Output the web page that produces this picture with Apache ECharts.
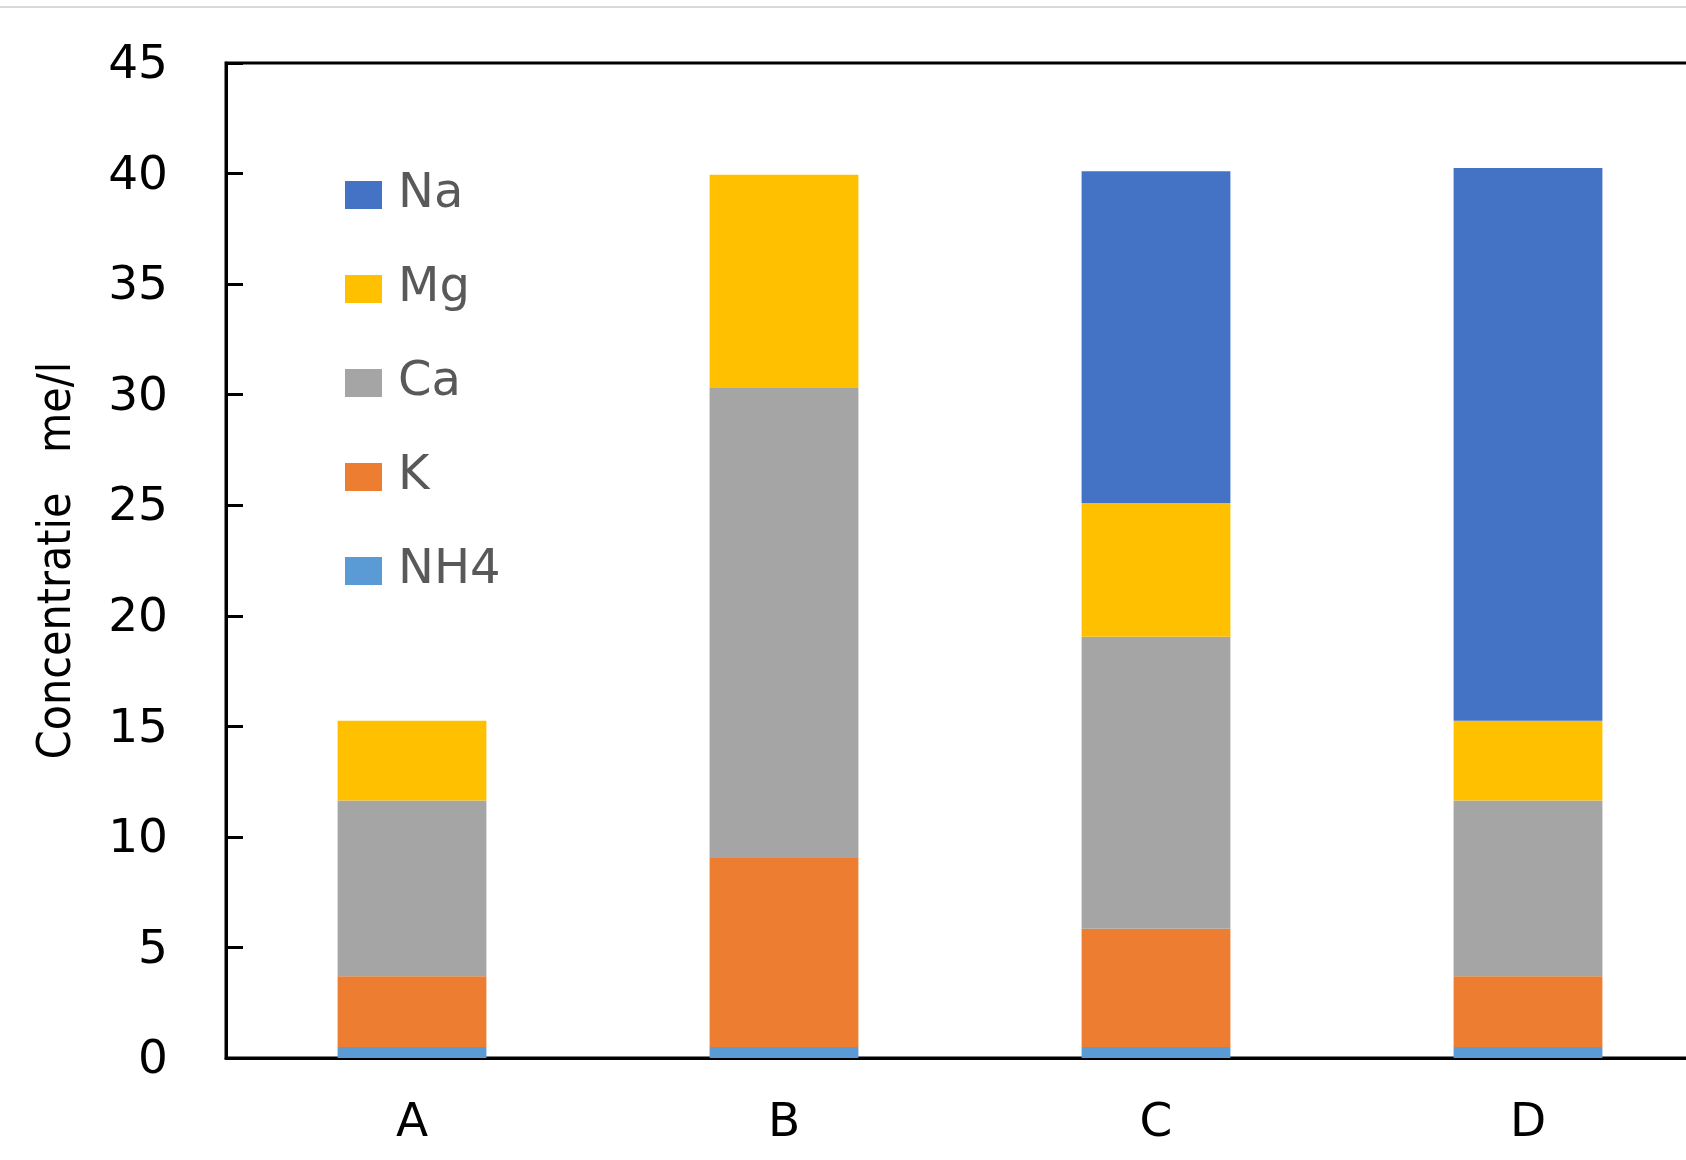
<!DOCTYPE html>
<html>
<head>
<meta charset="utf-8">
<script src="https://cdn.jsdelivr.net/npm/echarts@6/dist/echarts.min.js"></script>
<style>
html,body{margin:0;padding:0;background:#fff;}
#chart{width:1686px;height:1160px;}
</style>
</head>
<body>
<div id="chart"></div>
<script>
const categories = ['A', 'B', 'C', 'D'];
const nh4 = [0.5, 0.5, 0.5, 0.5];
const k   = [3.2, 8.55, 5.35, 3.2];
const ca  = [7.95, 21.25, 13.2, 7.95];
const mg  = [3.6, 9.65, 6.05, 3.6];
const na  = [0, 0, 15.0, 25.0];
const yTicks = { min: 0, max: 45, interval: 5 };
const legendOrder = ['Na', 'Mg', 'Ca', 'K', 'NH4'];
const yName = 'Concentratie   me/l';

const colors = { NH4: '#5B9BD5', K: '#ED7D31', Ca: '#A5A5A5', Mg: '#FFC000', Na: '#4472C4' };
const seriesDefs = [['NH4', nh4], ['K', k], ['Ca', ca], ['Mg', mg], ['Na', na]];

const chart = echarts.init(document.getElementById('chart'), null, { renderer: 'canvas' });
const mainFont = 'DejaVu Sans';
chart.setOption({
  animation: false,
  backgroundColor: '#ffffff',
  graphic: [{
    type: 'rect', left: 0, top: 6, shape: { width: 1686, height: 2 },
    style: { fill: '#d9d9d9' }, silent: true
  }],
  grid: {
    left: 226, top: 63, width: 1488, height: 995,
    outerBoundsMode: 'none', containLabel: false,
    show: true, borderColor: '#000', borderWidth: 3, backgroundColor: 'transparent'
  },
  legend: {
    data: legendOrder,
    orient: 'vertical',
    left: 345, top: 171,
    padding: 0,
    itemWidth: 37, itemHeight: 28, itemGap: 46,
    icon: 'rect',
    textStyle: { fontFamily: mainFont, fontSize: 48, color: '#595959', padding: [0, 0, 0, 11] }
  },
  xAxis: {
    type: 'category',
    data: categories,
    axisLine: { lineStyle: { color: '#000', width: 3 } },
    axisTick: { show: false },
    axisLabel: { fontFamily: mainFont, fontSize: 47, color: '#000', margin: 42 }
  },
  yAxis: {
    type: 'value',
    min: yTicks.min, max: yTicks.max, interval: yTicks.interval,
    name: yName,
    nameLocation: 'middle',
    nameGap: 145,
    nameTextStyle: { fontFamily: 'DejaVu Sans Condensed, sans-serif', fontSize: 46, color: '#000' },
    axisLine: { show: true, lineStyle: { color: '#000', width: 3 } },
    axisTick: { show: true, inside: true, length: 17, lineStyle: { color: '#000', width: 3 } },
    splitLine: { show: false },
    axisLabel: { fontFamily: mainFont, fontSize: 47, color: '#000', margin: 58, verticalAlign: 'top', lineHeight: 6 }
  },
  series: seriesDefs.map(([name, vals]) => ({
    name: name,
    type: 'bar',
    stack: 'total',
    barWidth: '40%',
    data: vals,
    itemStyle: { color: colors[name] }
  }))
});
</script>
</body>
</html>
